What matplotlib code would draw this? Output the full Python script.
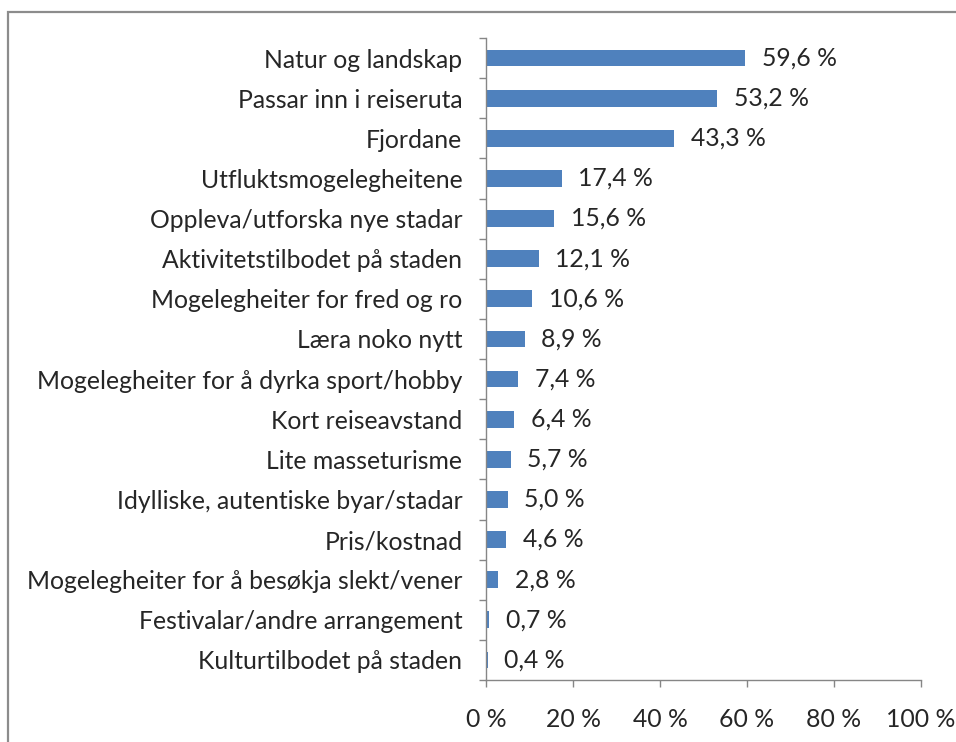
import matplotlib
matplotlib.use('Agg')
import matplotlib.pyplot as plt
import matplotlib.patches as mpatches
from matplotlib.ticker import FixedLocator

# ---------------------------------------------------------------------
# Data (top to bottom as shown)
# ---------------------------------------------------------------------
categories = ['Natur og landskap',
              'Passar inn i reiseruta',
              'Fjordane',
              'Utfluktsmogelegheitene',
              'Oppleva/utforska nye stadar',
              'Aktivitetstilbodet på staden',
              'Mogelegheiter for fred og ro',
              'Læra noko nytt',
              'Mogelegheiter for å dyrka sport/hobby',
              'Kort reiseavstand',
              'Lite masseturisme',
              'Idylliske, autentiske byar/stadar',
              'Pris/kostnad',
              'Mogelegheiter for å besøkja slekt/vener',
              'Festivalar/andre arrangement',
              'Kulturtilbodet på staden']
values = [59.6, 53.2, 43.3, 17.4, 15.6, 12.1, 10.6, 8.9, 7.4, 6.4, 5.7, 5.0, 4.6, 2.8, 0.7, 0.4]
x_ticks = [0, 20, 40, 60, 80, 100]
x_tick_labels = ['0 %', '20 %', '40 %', '60 %', '80 %', '100 %']

bar_color = '#4F81BD'
axis_color = '#868686'
text_color = '#262626'
fs = 17.8

plt.rcParams['font.family'] = ['Lato', 'DejaVu Sans']

fig = plt.figure(figsize=(9.56, 7.42), dpi=100)
ax = fig.add_axes([486 / 956, 1 - 680 / 742, 435 / 956, 642 / 742])

ypos = list(range(len(categories)))
ax.barh(ypos, values, height=0.42, color=bar_color, edgecolor='none')

for y, v in zip(ypos, values):
    ax.annotate(f'{v:.1f} %'.replace('.', ','), xy=(v, y), xytext=(12, 0),
                textcoords='offset points', va='center', ha='left',
                fontsize=fs, color=text_color)

ax.set_xlim(0, 100)
ax.set_ylim(len(categories) - 0.5, -0.5)
ax.set_xticks(x_ticks)
ax.set_xticklabels(x_tick_labels, fontsize=fs, color=text_color)
ax.set_yticks(ypos)
ax.set_yticklabels(categories, fontsize=fs, color=text_color)

# category boundary ticks on y axis (Excel style)
ax.yaxis.set_minor_locator(FixedLocator([i - 0.5 for i in range(len(categories) + 1)]))
ax.tick_params(axis='y', which='major', length=0, pad=17)
ax.tick_params(axis='y', which='minor', length=5, color=axis_color, width=1)
ax.tick_params(axis='x', which='major', length=5, color=axis_color, width=1, pad=15)

for side in ['top', 'right']:
    ax.spines[side].set_visible(False)
for side in ['left', 'bottom']:
    ax.spines[side].set_color(axis_color)
    ax.spines[side].set_linewidth(1)

# chart area border (only left/top visible in the crop)
border = mpatches.Rectangle((8 / 956, -0.1), 1.2, 1.1 - 12 / 742,
                            transform=fig.transFigure, fill=False,
                            edgecolor='#8c8c8c', linewidth=1.6)
fig.patches.append(border)

fig.savefig('out.png', dpi=100)
